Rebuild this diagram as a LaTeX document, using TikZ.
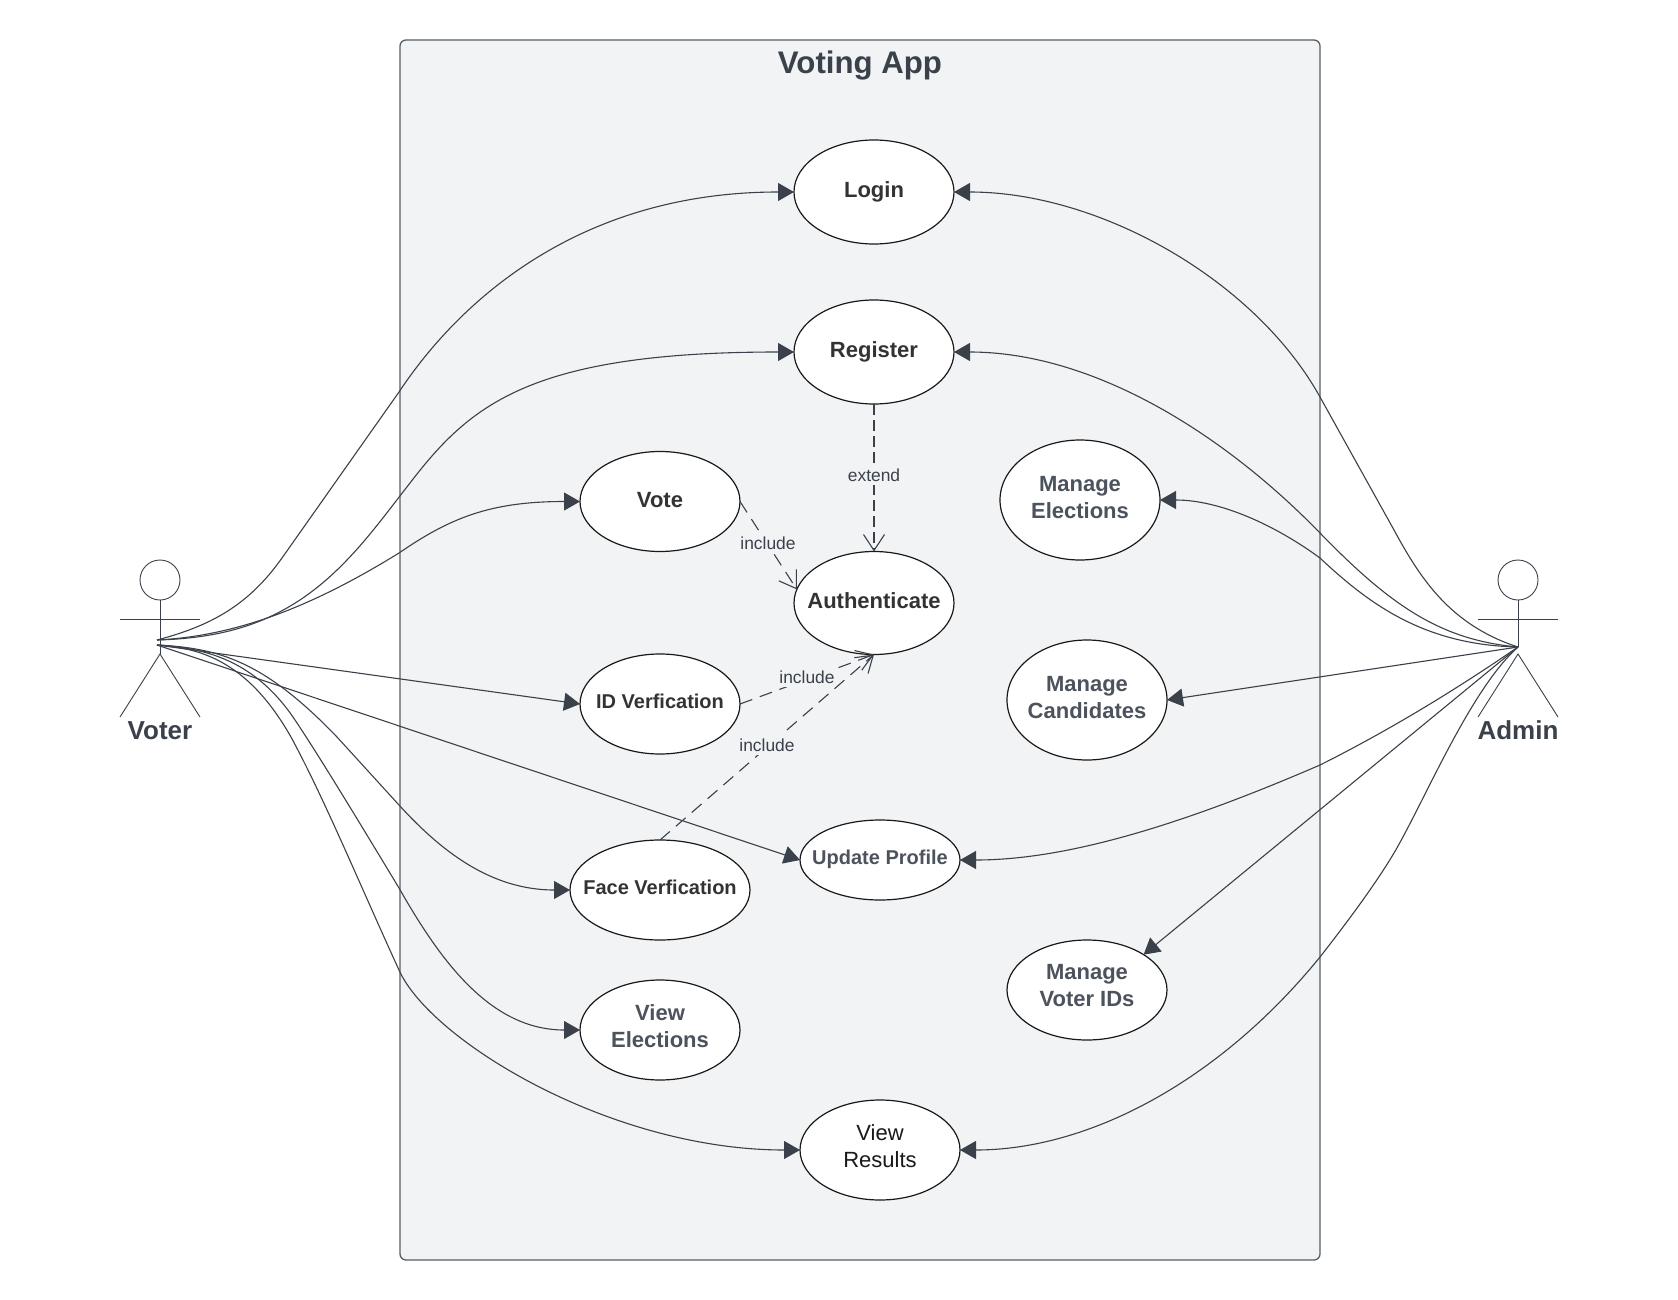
\documentclass[tikz,border=0pt]{standalone}
\usepackage{fontspec}
\setmainfont{Liberation Sans}
\usetikzlibrary{arrows.meta,shapes.geometric}
\definecolor{ink}{HTML}{3A414A}
\definecolor{panel}{HTML}{F1F3F5}
\definecolor{soft}{HTML}{4C535D}
\definecolor{dark}{HTML}{333333}
\newcommand\oneline[2]{\raisebox{#1}[0pt][0pt]{\makebox[0pt][c]{#2}}}
\newcommand\twoline[3]{\raisebox{#1}[0pt][0pt]{\makebox[0pt][c]{\begin{tabular}[b]{@{}c@{}}#2\\#3\end{tabular}}}}
\tikzset{
  usecase/.style={ellipse,draw=black!90,fill=white,line width=1.2pt,inner sep=0pt,outer sep=0pt,align=center,
    minimum width=160pt,minimum height=100pt,text=dark,font=\fontsize{22}{26.8}\selectfont\bfseries},
  usesoft/.style={usecase,text=soft},
  small/.style={font=\fontsize{20}{24}\selectfont\bfseries},
  assoc/.style={draw=ink,line width=1.1pt,-{Triangle[length=16pt,width=18pt]}},
  dep/.style={draw=ink,line width=1.1pt,dash pattern=on 13pt off 8pt,-{Straight Barb[length=16pt,width=21pt]}},
  stick/.style={draw=ink,line width=0.9pt},
  depname/.style={fill=panel,text=ink,inner xsep=0pt,inner ysep=4pt,anchor=base,font=\fontsize{17.4}{20}\selectfont},
  actorname/.style={text=ink,inner sep=0pt,anchor=base,font=\fontsize{26}{30}\selectfont\bfseries},
  head/.style={circle,draw=ink,fill=white,line width=0.9pt,minimum size=40pt,inner sep=0pt,outer sep=0pt}
}
\begin{document}
\begin{tikzpicture}[x=1pt,y=-1pt]
\useasboundingbox (0,0) rectangle (1678,1300);
\node[draw=ink!85,fill=panel,line width=1.3pt,rounded corners=6pt,inner sep=0pt,outer sep=0pt,minimum width=920pt,minimum height=1220pt] (frame) at (860,650) {};
\node[text=ink,inner sep=0pt,anchor=base,font=\fontsize{31.2}{36}\selectfont\bfseries] (title) at (860,73.5) {Voting App};

% use cases
\node[usecase,minimum height=104pt] (login) at (874,192) {\oneline{-5.7pt}{Login}};
\node[usecase,minimum height=104pt] (register) at (874,352) {\oneline{-5.7pt}{Register}};
\node[usecase] (vote) at (660,501.5) {\oneline{-6.2pt}{Vote}};
\node[usecase,minimum height=103pt] (auth) at (874,603) {\oneline{-5pt}{Authenticate}};
\node[usecase,small] (idv) at (660,704) {\oneline{-4pt}{ID Verfication}};
\node[usecase,small,minimum width=180pt] (face) at (660,890) {\oneline{-4pt}{Face Verfication}};
\node[usesoft,small,minimum height=80pt] (update) at (880,860) {\oneline{-4pt}{Update Profile}};
\node[usesoft] (vielect) at (660,1030) {\twoline{-17pt}{View}{Elections}};
\node[usecase,font=\fontsize{22}{26.8}\selectfont,text=black!90] (vires) at (880,1150) {\twoline{-17pt}{View}{Results}};
\node[usesoft,minimum height=120pt] (maelect) at (1080,500) {\twoline{-18pt}{Manage}{Elections}};
\node[usesoft,minimum height=120pt] (macand) at (1087,700) {\twoline{-18.5pt}{Manage}{Candidates}};
\node[usesoft] (mavoter) at (1087,990) {\twoline{-16pt}{Manage}{Voter IDs}};

% actors
\node[head] (vhead) at (160,580) {};
\coordinate (vhip) at (160,654);
\coordinate (vT) at (157,640);
\coordinate (vB) at (157,645);
\draw[stick] (vhead.south) -- (vhip);
\draw[stick] (120,619) -- (200,619);
\draw[stick] (120,717) -- (vhip) -- (200,717);
\node[actorname] (voter) at (160,739.3) {Voter};

\node[head] (ahead) at (1518,580) {};
\coordinate (ahip) at (1518,654);
\coordinate (aF) at (1518,647);
\draw[stick] (ahead.south) -- (aF);
\draw[stick] (1478,619) -- (1558,619);
\draw[stick] (1478,717) -- (ahip) -- (1558,717);
\node[actorname] (admin) at (1518,739.3) {Admin};

% voter associations
\draw[assoc] (vT) .. controls (210,626) and (248,606) .. (282,558) -- (399,392) .. controls (460,300) and (580,192) .. (login.west);
\draw[assoc] (vT) .. controls (230,638) and (285,620) .. (337,570) .. controls (365,543) and (385,515) .. (410,483) .. controls (470,405) and (530,352) .. (register.west);
\draw[assoc] (vT) .. controls (235,636) and (310,608) .. (399,553) .. controls (450,518) and (490,501.5) .. (vote.west);
\draw[assoc] (vB) -- (idv.west);
\draw[assoc] (vB) -- (update.west);
\draw[assoc] (vB) .. controls (220,648) and (265,662) .. (337,737) -- (399,805) .. controls (440,850) and (490,890) .. (face.west);
\draw[assoc] (vB) .. controls (205,648) and (255,660) .. (295,720) .. controls (320,757) and (370,840) .. (399,888) .. controls (440,960) and (490,1030) .. (vielect.west);
\draw[assoc] (vB) .. controls (205,648) and (250,665) .. (291,737) .. controls (325,800) and (360,885) .. (399,970) .. controls (430,1040) and (610,1150) .. (vires.west);

% admin associations
\draw[assoc] (aF) .. controls (1450,625) and (1420,578) .. (1394,530) -- (1320,397) .. controls (1255,280) and (1100,192) .. (login.east);
\draw[assoc] (aF) .. controls (1440,640) and (1390,605) .. (1320,533) .. controls (1220,430) and (1090,352) .. (register.east);
\draw[assoc] (aF) .. controls (1425,645) and (1370,605) .. (1320,558) .. controls (1275,525) and (1220,500) .. (maelect.east);
\draw[assoc] (aF) -- (macand.east);
\draw[assoc] (aF) .. controls (1470,680) and (1400,725) .. (1320,765) .. controls (1170,830) and (1060,860) .. (update.east);
\draw[assoc] (aF) -- (mavoter.32);
\draw[assoc] (aF) .. controls (1470,690) and (1425,800) .. (1394,853) .. controls (1375,885) and (1345,925) .. (1320,957) .. controls (1220,1080) and (1090,1150) .. (vires.east);

% include / extend
\draw[dep,line width=2pt,dash pattern=on 11pt off 5pt,-{Straight Barb[length=16pt,width=21pt,line width=1.1pt]}] (register.south) -- (auth.north);
\draw[dep] (vote.east) -- (auth.170);
\draw[dep] (idv.east) -- (auth.south);
\draw[dep] (face.north) -- (auth.south);
\node[depname] (l1) at (874,481) {extend};
\node[depname] (l2) at (768,549) {include};
\node[depname] (l3) at (807,683) {include};
\node[depname] (l4) at (767,751) {include};
\end{tikzpicture}
\end{document}
